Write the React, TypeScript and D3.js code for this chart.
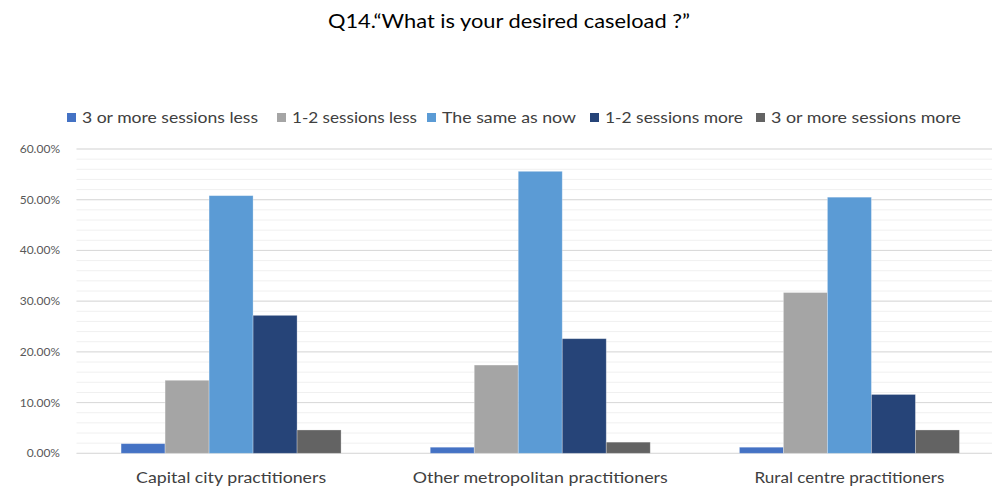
import React from "react";
import * as d3 from "d3";

const categories = [
  "Capital city practitioners",
  "Other metropolitan practitioners",
  "Rural centre practitioners",
];
const seriesNames = [
  "3 or more sessions less",
  "1-2 sessions less",
  "The same as now",
  "1-2 sessions more",
  "3 or more sessions more",
];
const seriesColors = ["#4472C4", "#A5A5A5", "#5B9BD5", "#264478", "#636363"];
const lessThree = [1.9, 1.2, 1.2];
const lessOneTwo = [14.4, 17.4, 31.7];
const sameAsNow = [50.8, 55.6, 50.5];
const moreOneTwo = [27.2, 22.6, 11.6];
const moreThree = [4.6, 2.2, 4.6];
const seriesValues = [lessThree, lessOneTwo, sameAsNow, moreOneTwo, moreThree];
const yTicks = [0, 10, 20, 30, 40, 50, 60];
const title = "Q14.\u201CWhat is your desired caseload ?\u201D";

const W = 992;
const H = 486;
const FONT = "Lato, 'Open Sans', sans-serif";

export default function App() {
  const left = 76.5;
  const right = 1004;
  const y0 = 453.3;
  const y60 = 149;
  const x = d3.scaleBand<string>().domain(categories).range([left, right]).padding(0);
  const y = d3.scaleLinear().domain([0, 60]).range([y0, y60]);
  const barW = 44;
  const inner = d3
    .scaleBand<number>()
    .domain(seriesNames.map((_, i) => i))
    .range([0, barW * 5])
    .padding(0);
  const minorTicks = d3.range(0, 60.001, 2);

  const legendX = [67, 277, 427, 590, 756];
  const legendTextW = [176, 125, 134, 138, 190];
  const xLabelW = [190, 255, 190];

  return (
    <svg width={W} height={H} style={{ position: "absolute", left: 0, top: 0, background: "#fff" }}>
      <text x={509} y={28} textAnchor="middle" fontFamily={FONT} fontSize={19} fill="#000" textLength={362} lengthAdjust="spacingAndGlyphs">
        {title}
      </text>
      {minorTicks.map((t) => (
        <line key={"m" + t} x1={left} x2={W} y1={y(t)} y2={y(t)} stroke="#f0f0f0" strokeWidth={1} />
      ))}
      {yTicks.map((t) => (
        <g key={"g" + t}>
          <line x1={left} x2={W} y1={y(t)} y2={y(t)} stroke="#d9d9d9" strokeWidth={1} />
          <text x={60} y={y(t) + 4} textAnchor="end" fontFamily={FONT} fontSize={12} fill="#595959">
            {t.toFixed(2) + "%"}
          </text>
        </g>
      ))}
      {categories.map((c, ci) => {
        const cx = (x(c) as number) + x.bandwidth() / 2;
        const gx = cx - (barW * 5) / 2;
        return (
          <g key={c}>
            {seriesValues.map((vals, si) => (
              <rect
                key={si}
                x={gx + (inner(si) as number)}
                y={y(vals[ci])}
                width={inner.bandwidth()}
                height={y0 - y(vals[ci])}
                fill={seriesColors[si]}
                stroke="#ffffff"
                strokeOpacity={0.35}
                strokeWidth={0.8}
              />
            ))}
            <text x={cx} y={483} textAnchor="middle" fontFamily={FONT} fontSize={15} fill="#404040" textLength={xLabelW[ci]} lengthAdjust="spacingAndGlyphs">
              {c}
            </text>
          </g>
        );
      })}
      {seriesNames.map((s, i) => (
        <g key={s}>
          <rect x={legendX[i]} y={113} width={9} height={9} fill={seriesColors[i]} />
          <text x={legendX[i] + 15} y={123} fontFamily={FONT} fontSize={15} fill="#404040" textLength={legendTextW[i]} lengthAdjust="spacingAndGlyphs">
            {s}
          </text>
        </g>
      ))}
    </svg>
  );
}
